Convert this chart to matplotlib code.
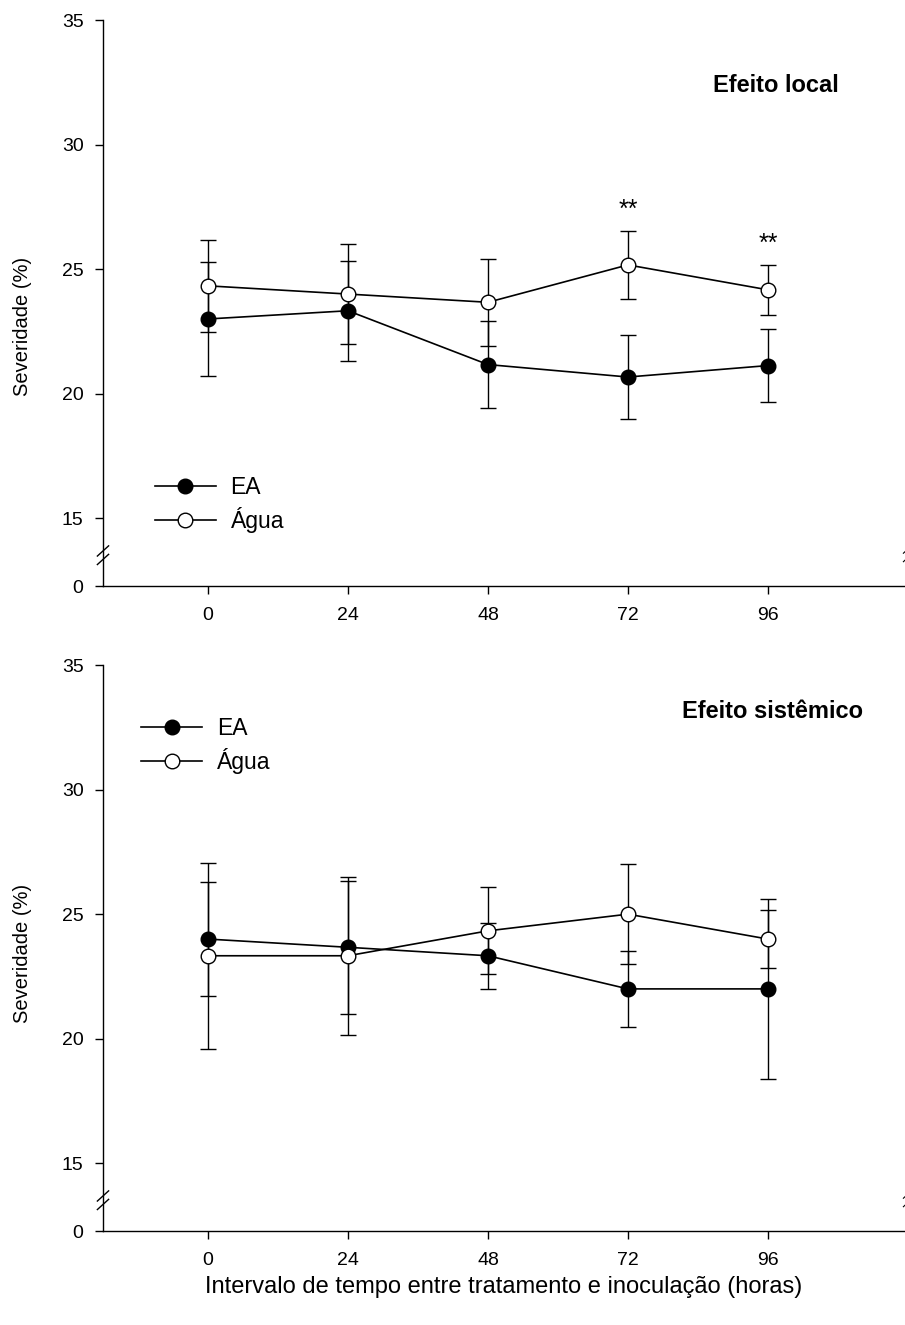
import numpy as np
import matplotlib
matplotlib.use("Agg")
import matplotlib.pyplot as plt
from matplotlib.ticker import FormatStrFormatter

plt.rcParams['font.family'] = ['Liberation Sans', 'DejaVu Sans']

# Intervalo (h) entre tratamento e inoculação
horas = [0, 24, 48, 72, 96]

# Efeito local
local_ea = [23.0, 23.33, 21.17, 20.67, 21.13]
local_ea_err = [2.3, 2.0, 1.75, 1.67, 1.48]
local_agua = [24.33, 24.0, 23.67, 25.17, 24.17]
local_agua_err = [1.85, 2.0, 1.75, 1.35, 1.0]
local_sig = [72, 96]

# Efeito sistêmico
sist_ea = [24.0, 23.67, 23.33, 22.0, 22.0]
sist_ea_err = [2.3, 2.67, 1.33, 1.53, 3.6]
sist_agua = [23.33, 23.33, 24.33, 25.0, 24.0]
sist_agua_err = [3.73, 3.17, 1.75, 2.0, 1.15]

yticks = [0, 15, 20, 25, 30, 35]

# eixo y quebrado entre 0 e 15
k = 2.72 / 15.0


def fwd(y):
    y = np.asarray(y, dtype=float)
    return np.where(y >= 15, y, 15 - (15 - y) * k)


def inv(v):
    v = np.asarray(v, dtype=float)
    return np.where(v >= 15, v, 15 - (15 - v) / k)


def painel(ax, ea, ea_err, agua, agua_err, titulo, tpos, legpos, ylab_y, sig=()):
    ax.set_yscale('function', functions=(fwd, inv))
    ax.errorbar(horas, ea, yerr=ea_err, fmt='none', ecolor='black',
                elinewidth=1.0, capsize=5.5, capthick=1.0, zorder=2)
    ax.errorbar(horas, agua, yerr=agua_err, fmt='none', ecolor='black',
                elinewidth=1.0, capsize=5.5, capthick=1.0, zorder=2)
    l1, = ax.plot(horas, ea, '-o', color='black', mfc='black', mec='black',
                  ms=10.5, lw=1.2, label='EA', zorder=3)
    l2, = ax.plot(horas, agua, '-o', color='black', mfc='white', mec='black',
                  ms=10.5, mew=1.0, lw=1.2, label='Água', zorder=4)

    for h in sig:
        i = horas.index(h)
        ax.text(h, agua[i] + agua_err[i] + 0.85, '**', ha='center', va='center',
                fontsize=18)

    ax.set_xlim(-18, 119.5)
    ax.set_ylim(0, 35)
    ax.set_xticks(horas)
    ax.set_yticks(yticks)
    ax.yaxis.set_major_formatter(FormatStrFormatter('%d'))
    ax.minorticks_off()
    ax.spines['top'].set_visible(False)
    ax.spines['right'].set_visible(False)
    for s in ('left', 'bottom'):
        ax.spines[s].set_linewidth(1.0)
    ax.tick_params(axis='both', direction='out', length=6, width=1.0,
                   labelsize=14)
    ax.tick_params(axis='x', pad=9)
    ax.tick_params(axis='y', pad=8)

    ax.set_ylabel('Severidade (%)', fontsize=14.5)
    ax.yaxis.set_label_coords(-0.088, ylab_y)

    ax.text(tpos[0], tpos[1], titulo, transform=ax.transAxes, fontsize=17,
            fontweight='bold', ha='left', va='center')

    ax.legend(handles=[l1, l2], loc='upper left', bbox_to_anchor=legpos,
              frameon=False, fontsize=16.5, handlelength=2.66,
              handletextpad=0.65, labelspacing=0.36, borderaxespad=0)

    # marcas de quebra do eixo
    for yb in (0.062, 0.047):
        ax.plot([-0.007, 0.007], [yb - 0.009, yb + 0.009], transform=ax.transAxes,
                color='black', lw=1.0, clip_on=False)
        ax.plot([0.998, 1.004], [yb - 0.004, yb + 0.004], transform=ax.transAxes,
                color='black', lw=0.8, clip_on=False)


fig = plt.figure(figsize=(9.05, 13.25), dpi=100)
ax1 = fig.add_axes([0.1138, 0.5577, 0.8862, 0.4272])
ax2 = fig.add_axes([0.1138, 0.0709, 0.8862, 0.4272])

painel(ax1, local_ea, local_ea_err, local_agua, local_agua_err,
       'Efeito local', (0.760, 0.885), (0.053, 0.211), 0.459, sig=local_sig)
painel(ax2, sist_ea, sist_ea_err, sist_agua, sist_agua_err,
       'Efeito sistêmico', (0.722, 0.917), (0.036, 0.925), 0.491)

ax2.set_xlabel('Intervalo de tempo entre tratamento e inoculação (horas)',
               fontsize=17, labelpad=5)

fig.savefig('out.png', dpi=100)
